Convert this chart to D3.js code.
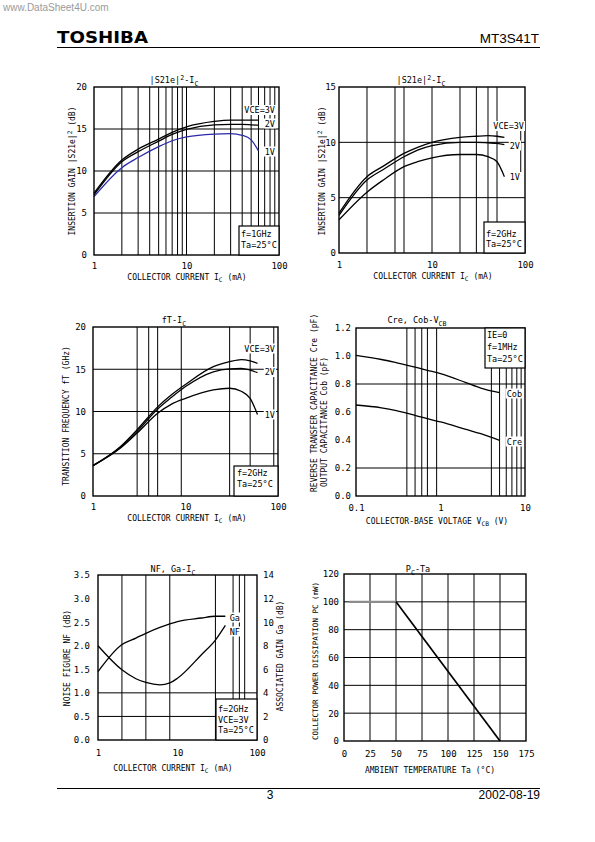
<!DOCTYPE html>
<html><head><meta charset="utf-8">
<script src="https://cdn.jsdelivr.net/npm/d3@7"></script>
<style>body{margin:0;background:#fff}svg{display:block}</style>
</head><body>
<svg id="page" width="595" height="842"></svg>
<script>
// ---------------- data ----------------
const icPts     = [1, 2, 3, 5, 7, 10, 20, 30, 40, 50, 60];
const s21_1g_3V = [7.35, 11.3, 12.6, 13.8, 14.6, 15.25, 15.9, 16.05, 16.05, 16.05, 16.05];
const s21_1g_2V = [7.15, 11.1, 12.3, 13.55, 14.35, 14.95, 15.5, 15.55, 15.55, 15.5, 15.45];
const s21_1g_1V = [6.95, 10.4, 11.6, 12.9, 13.6, 14.05, 14.4, 14.45, 14.25, 13.7, 12.4];
const s21_2g_3V = [3.6, 6.9, 7.85, 9.0, 9.55, 10.0, 10.45, 10.55, 10.6, 10.55, 10.45];
const s21_2g_2V = [3.4, 6.6, 7.55, 8.7, 9.3, 9.7, 10.0, 10.0, 9.95, 9.9, 9.8];
const s21_2g_1V = [3.0, 5.5, 6.6, 7.8, 8.25, 8.6, 8.9, 8.9, 8.7, 8.25, 6.9];
const ft_3V     = [3.6, 5.9, 7.85, 10.55, 11.95, 13.2, 15.3, 15.9, 16.15, 16.0, 15.7];
const ft_2V     = [3.6, 5.8, 7.65, 10.3, 11.65, 12.95, 14.7, 15.05, 15.1, 14.9, 14.6];
const ft_1V     = [3.6, 5.7, 7.45, 9.8, 10.85, 11.55, 12.55, 12.75, 12.4, 11.55, 9.65];
const vcbPts    = [0.1, 0.2, 0.3, 0.5, 0.7, 1, 2, 3, 5];
const cob       = [1.005, 0.975, 0.952, 0.921, 0.898, 0.874, 0.81, 0.771, 0.738];
const cre       = [0.65, 0.63, 0.61, 0.576, 0.552, 0.529, 0.476, 0.445, 0.398];
const nfIcPts   = [1, 2, 3, 4, 6, 8, 10, 20, 30, 40];
const nf        = [2.0, 1.49, 1.3, 1.22, 1.17, 1.21, 1.31, 1.81, 2.12, 2.43];
const ga        = [5.8, 8.1, 8.65, 9.05, 9.55, 9.85, 10.05, 10.35, 10.5, 10.5];
const taPts     = [5, 50, 150];
const pc        = [100, 100, 0];

// tick labels
const icTicks   = [1, 10, 100];
const vcbTicks  = [0.1, 1, 10];
const s21aTicks = [0, 5, 10, 15, 20];
const s21bTicks = [0, 5, 10, 15];
const ftTicks   = [0, 5, 10, 15, 20];
const capTicks  = [0, 0.2, 0.4, 0.6, 0.8, 1.0, 1.2];
const nfTicks   = [0, 0.5, 1.0, 1.5, 2.0, 2.5, 3.0, 3.5];
const gaTicks   = [0, 2, 4, 6, 8, 10, 12, 14];
const taTicks   = [0, 25, 50, 75, 100, 125, 150, 175];
const pcTicks   = [0, 20, 40, 60, 80, 100, 120];

// grid lines
const grid1X = [2,3,4,5,6,7,8,9,10,20,30,40,50,60,70,80,90], grid1Y = [5,10,15];
const grid2X = [2,4,5,10,20,30,40,50], grid2Y = [5,10];
const grid3X = [3,4,5,9,30,50,90], grid3Y = [5,10,15];
const grid4X = [0.4,0.5,0.6,0.7,0.9,4,5,6,7,8,9], grid4Y = [0.2,0.8];
const grid5X = [2,4,8,30,50,60,70], grid5Y = [0.5,1.0];
const grid6X = [25,50,75,100,125,150], grid6Y = [20,40,60,80,100];

// ---------------- drawing ----------------
const svg = d3.select('#page');
const F = "'DejaVu Sans Mono','Liberation Mono',monospace";
const SANS = "'Liberation Sans',Arial,sans-serif";

function rich(t, parts, fs) {
  let shift = 0;
  parts.forEach(p => {
    const [s, k] = typeof p === 'string' ? [p, ''] : p;
    const target = k === 'sub' ? fs * 0.3 : k === 'sup' ? -fs * 0.4 : 0;
    t.append('tspan').attr('dy', target - shift).attr('font-size', k ? fs * 0.78 : fs).text(s);
    shift = target;
  });
  return t;
}
function label(g, x, y, parts, opt = {}) {
  const fs = opt.fs || 8.5;
  const t = g.append('text').attr('x', x).attr('y', y)
    .attr('font-family', F).attr('font-size', fs)
    .attr('text-anchor', opt.anchor || 'start').attr('fill', '#000');
  if (opt.rot) t.attr('x', 0).attr('y', 0).attr('transform', `translate(${x},${y}) rotate(-90)`);
  rich(t, typeof parts === 'string' ? [parts] : parts, fs);
  if (opt.bg) {
    const b = t.node().getBBox();
    g.insert('rect', () => t.node()).attr('x', b.x - 1).attr('y', b.y).attr('width', b.width + 2)
      .attr('height', b.height).attr('fill', '#fff');
  }
  return t;
}

function chart(c) {
  const g = svg.append('g');
  const x = (c.xlog ? d3.scaleLog() : d3.scaleLinear()).domain(c.xd).range([c.x0, c.x1]);
  const y = d3.scaleLinear().domain(c.yd).range([c.y1, c.y0]);
  g.append('g').selectAll('line').data(c.gx).join('line')
    .attr('x1', d => x(d)).attr('x2', d => x(d)).attr('y1', c.y0).attr('y2', c.y1)
    .attr('stroke', '#000').attr('stroke-width', 1);
  g.append('g').selectAll('line').data(c.gy).join('line')
    .attr('y1', d => y(d)).attr('y2', d => y(d)).attr('x1', c.x0).attr('x2', c.x1)
    .attr('stroke', '#000').attr('stroke-width', 1);
  const ax = d3.axisBottom(x).tickValues(c.xt).tickSize(0).tickPadding(c.xpad || 9).tickFormat(c.xf || d3.format('~g'));
  const ay = d3.axisLeft(y).tickValues(c.yt).tickSize(0).tickPadding(c.ypad || 7).tickFormat(c.yf || d3.format('~g'));
  const fix = s => { s.select('.domain').remove(); s.attr('font-family', F).attr('font-size', 9); };
  g.append('g').attr('transform', `translate(0,${c.y1})`).call(ax).call(fix);
  g.append('g').attr('transform', `translate(${c.x0},0)`).call(ay).call(fix);
  return { g, x, y };
}
function curve(ch, xs, ys, color, w, yScale) {
  const ysc = yScale || ch.y;
  const line = d3.line().x(d => ch.x(d[0])).y(d => ysc(d[1])).curve(d3.curveMonotoneX);
  ch.g.append('path').datum(xs.map((v, i) => [v, ys[i]])).attr('d', line)
    .attr('fill', 'none').attr('stroke', color).attr('stroke-width', w || 1.3);
}
function frame(ch, c) {
  ch.g.append('rect').attr('x', c.x0).attr('y', c.y0).attr('width', c.x1 - c.x0).attr('height', c.y1 - c.y0)
    .attr('fill', 'none').attr('stroke', '#000').attr('stroke-width', 1.4);
}
function box(g, x0, y0, x1, y1, lines, tx, ys) {
  g.append('rect').attr('x', x0).attr('y', y0).attr('width', x1 - x0).attr('height', y1 - y0)
    .attr('fill', '#fff').attr('stroke', '#000').attr('stroke-width', 1.2);
  lines.forEach((l, i) => label(g, tx, ys[i], l, { fs: 8.5 }));
}

// ---- header / footer ----
svg.append('text').attr('x', 3).attr('y', 11).attr('font-family', SANS).attr('font-size', 10)
  .attr('fill', '#9a9a9a').text('www.DataSheet4U.com');
svg.append('text').attr('x', 57).attr('y', 43).attr('font-family', "'DejaVu Sans',sans-serif")
  .attr('font-weight', 'bold').attr('font-size', 15).attr('textLength', 91)
  .attr('lengthAdjust', 'spacingAndGlyphs').text('TOSHIBA');
svg.append('text').attr('x', 539).attr('y', 43).attr('font-family', SANS).attr('font-size', 13.5)
  .attr('text-anchor', 'end').text('MT3S41T');
svg.append('line').attr('x1', 57).attr('x2', 540).attr('y1', 47.5).attr('y2', 47.5).attr('stroke', '#000').attr('stroke-width', 1.2);
svg.append('line').attr('x1', 57).attr('x2', 540).attr('y1', 788.5).attr('y2', 788.5).attr('stroke', '#000').attr('stroke-width', 1.2);
svg.append('text').attr('x', 270).attr('y', 799).attr('font-family', SANS).attr('font-size', 12)
  .attr('text-anchor', 'middle').text('3');
svg.append('text').attr('x', 540).attr('y', 799).attr('font-family', SANS).attr('font-size', 12)
  .attr('text-anchor', 'end').text('2002-08-19');

// ---- chart 1 : |S21e|^2 - Ic, 1 GHz ----
{
  const c = { x0: 94, x1: 279, y0: 87, y1: 255, xlog: true, xd: [1, 100], yd: [0, 20],
    gx: grid1X, gy: grid1Y, xt: icTicks, yt: s21aTicks, xpad: 8, ypad: 7 };
  const ch = chart(c);
  curve(ch, icPts, s21_1g_3V, '#000');
  curve(ch, icPts, s21_1g_2V, '#000');
  curve(ch, icPts, s21_1g_1V, '#2a2aa8');
  frame(ch, c);
  label(ch.g, 275, 113, 'VCE=3V', { anchor: 'end', bg: true });
  label(ch.g, 275, 126.5, '2V', { anchor: 'end', bg: true });
  label(ch.g, 275, 154.5, '1V', { anchor: 'end', bg: true });
  box(ch.g, 239, 226, 279, 255, ['f=1GHz', 'Ta=25°C'], 241, [237, 248]);
  label(ch.g, 174, 83, ['|S21e|', ['2', 'sup'], '-I', ['C', 'sub']], { anchor: 'middle' });
  label(ch.g, 75, 171, ['INSERTION GAIN |S21e|', ['2', 'sup'], ' (dB)'], { anchor: 'middle', rot: true, fs: 8 });
  label(ch.g, 187, 280, ['COLLECTOR CURRENT I', ['C', 'sub'], ' (mA)'], { anchor: 'middle', fs: 8 });
}

// ---- chart 2 : |S21e|^2 - Ic, 2 GHz ----
{
  const c = { x0: 339, x1: 525, y0: 87, y1: 253, xlog: true, xd: [1, 100], yd: [0, 15],
    gx: grid2X, gy: grid2Y, xt: icTicks, yt: s21bTicks, xpad: 9, ypad: 3 };
  const ch = chart(c);
  ch.g.append('line').attr('x1', ch.x(90)).attr('x2', ch.x(90)).attr('y1', ch.y(11.8)).attr('y2', ch.y(7.3))
    .attr('stroke', '#000').attr('stroke-width', 1);
  curve(ch, icPts, s21_2g_3V, '#000');
  curve(ch, icPts, s21_2g_2V, '#000');
  curve(ch, icPts, s21_2g_1V, '#000');
  frame(ch, c);
  label(ch.g, 524, 129, 'VCE=3V', { anchor: 'end', bg: true });
  label(ch.g, 520, 148.5, '2V', { anchor: 'end', bg: true });
  label(ch.g, 520, 180, '1V', { anchor: 'end', bg: true });
  box(ch.g, 484, 222, 525, 253, ['f=2GHz', 'Ta=25°C'], 486, [237, 247]);
  label(ch.g, 421, 83, ['|S21e|', ['2', 'sup'], '-I', ['C', 'sub']], { anchor: 'middle' });
  label(ch.g, 325, 171, ['INSERTION GAIN |S21e|', ['2', 'sup'], ' (dB)'], { anchor: 'middle', rot: true, fs: 8 });
  label(ch.g, 433, 279, ['COLLECTOR CURRENT I', ['C', 'sub'], ' (mA)'], { anchor: 'middle', fs: 8 });
}

// ---- chart 3 : fT - Ic ----
{
  const c = { x0: 93, x1: 278, y0: 327, y1: 496, xlog: true, xd: [1, 100], yd: [0, 20],
    gx: grid3X, gy: grid3Y, xt: icTicks, yt: ftTicks, xpad: 8, ypad: 7 };
  const ch = chart(c);
  curve(ch, icPts, ft_3V, '#000');
  curve(ch, icPts, ft_2V, '#000');
  curve(ch, icPts, ft_1V, '#000');
  frame(ch, c);
  label(ch.g, 275, 351.5, 'VCE=3V', { anchor: 'end', bg: true });
  label(ch.g, 275, 375, '2V', { anchor: 'end', bg: true });
  label(ch.g, 275, 417.5, '1V', { anchor: 'end', bg: true });
  box(ch.g, 234, 466, 278, 496, ['f=2GHz', 'Ta=25°C'], 237, [476, 487]);
  label(ch.g, 174, 323, ['fT-I', ['C', 'sub']], { anchor: 'middle' });
  label(ch.g, 69, 416, 'TRANSITION FREQUENCY fT (GHz)', { anchor: 'middle', rot: true, fs: 8 });
  label(ch.g, 187, 521, ['COLLECTOR CURRENT I', ['C', 'sub'], ' (mA)'], { anchor: 'middle', fs: 8 });
}

// ---- chart 4 : Cre, Cob - Vcb ----
{
  const c = { x0: 356, x1: 525, y0: 328, y1: 496, xlog: true, xd: [0.1, 10], yd: [0, 1.2],
    gx: grid4X, gy: grid4Y, xt: vcbTicks, yt: capTicks, xpad: 9, ypad: 5,
    yf: d3.format('.1f'), xf: d3.format('~g') };
  const ch = chart(c);
  curve(ch, vcbPts, cob, '#000');
  curve(ch, vcbPts, cre, '#000');
  frame(ch, c);
  label(ch.g, 522, 396.5, 'Cob', { anchor: 'end', bg: true });
  label(ch.g, 522, 444.5, 'Cre', { anchor: 'end', bg: true });
  box(ch.g, 485, 328, 525, 368, ['IE=0', 'f=1MHz', 'Ta=25°C'], 487, [338, 350, 362]);
  label(ch.g, 417, 323, ['Cre, Cob-V', ['CB', 'sub']], { anchor: 'middle' });
  label(ch.g, 317, 492, 'REVERSE TRANSFER CAPACITANCE Cre (pF)', { anchor: 'start', rot: true, fs: 8 });
  label(ch.g, 327, 487, 'OUTPUT CAPACITANCE Cob (pF)', { anchor: 'start', rot: true, fs: 8 });
  label(ch.g, 437, 524, ['COLLECTOR-BASE VOLTAGE V', ['CB', 'sub'], ' (V)'], { anchor: 'middle', fs: 8 });
}

// ---- chart 5 : NF, Ga - Ic ----
{
  const c = { x0: 98, x1: 257, y0: 575, y1: 740, xlog: true, xd: [1, 100], yd: [0, 3.5],
    gx: grid5X, gy: grid5Y, xt: icTicks, yt: nfTicks, xpad: 10, ypad: 8, yf: d3.format('.1f') };
  const ch = chart(c);
  const yR = d3.scaleLinear().domain([0, 14]).range([c.y1, c.y0]);
  ch.g.append('g').attr('transform', `translate(${c.x1},0)`)
    .call(d3.axisRight(yR).tickValues(gaTicks).tickSize(0).tickPadding(6))
    .call(s => { s.select('.domain').remove(); s.attr('font-family', F).attr('font-size', 9); });
  curve(ch, nfIcPts, nf, '#000');
  curve(ch, nfIcPts, ga, '#000', 1.3, yR);
  frame(ch, c);
  label(ch.g, 240, 620.5, 'Ga', { anchor: 'end', bg: true });
  label(ch.g, 240, 634.5, 'NF', { anchor: 'end', bg: true });
  box(ch.g, 216, 699, 257, 740, ['f=2GHz', 'VCE=3V', 'Ta=25°C'], 218, [712, 722.5, 733]);
  label(ch.g, 173, 572, ['NF, Ga-I', ['C', 'sub']], { anchor: 'middle' });
  label(ch.g, 70, 658, 'NOISE FIGURE NF (dB)', { anchor: 'middle', rot: true, fs: 8 });
  label(ch.g, 283, 656, 'ASSOCIATED GAIN Ga (dB)', { anchor: 'middle', rot: true, fs: 8 });
  label(ch.g, 173, 771, ['COLLECTOR CURRENT I', ['C', 'sub'], ' (mA)'], { anchor: 'middle', fs: 8 });
}

// ---- chart 6 : Pc - Ta ----
{
  const c = { x0: 344, x1: 526, y0: 574, y1: 741, xlog: false, xd: [0, 175], yd: [0, 120],
    gx: grid6X, gy: grid6Y, xt: taTicks, yt: pcTicks, xpad: 10, ypad: 5 };
  const ch = chart(c);
  const seg = (i, col, w) => ch.g.append('line')
    .attr('x1', ch.x(taPts[i])).attr('y1', ch.y(pc[i]))
    .attr('x2', ch.x(taPts[i + 1])).attr('y2', ch.y(pc[i + 1]))
    .attr('stroke', col).attr('stroke-width', w);
  seg(0, '#8c8c8c', 2.4);
  seg(1, '#000', 1.7);
  frame(ch, c);
  label(ch.g, 418, 572, ['P', ['C', 'sub'], '-Ta'], { anchor: 'middle' });
  label(ch.g, 318, 661, 'COLLECTOR POWER DISSIPATION PC (mW)', { anchor: 'middle', rot: true, fs: 7.5 });
  label(ch.g, 430, 773, 'AMBIENT TEMPERATURE Ta (°C)', { anchor: 'middle', fs: 8 });
}
</script>
</body></html>
